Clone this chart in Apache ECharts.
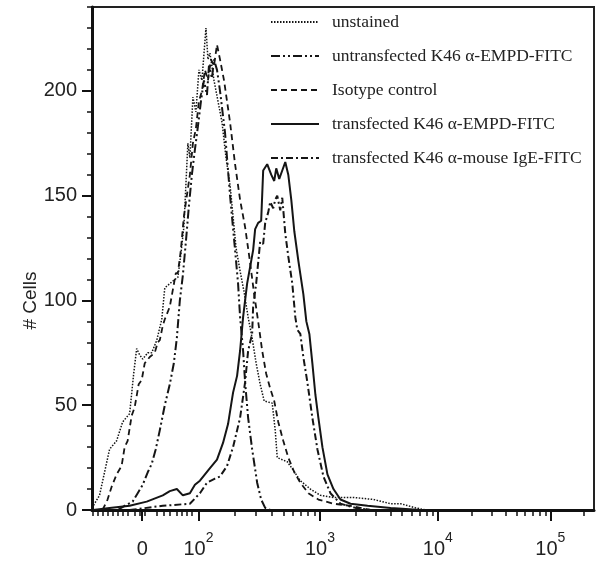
<!DOCTYPE html>
<html>
<head>
<meta charset="utf-8">
<script src="https://cdn.jsdelivr.net/npm/echarts@6/dist/echarts.min.js"></script>
<style>
  html, body { margin: 0; padding: 0; background: #fff; }
  #main { width: 601px; height: 568px; }
</style>
</head>
<body>
<div id="main"></div>
<script>
// x values are display channels (0..1000) of the biexponential FITC axis
var xTickPos = [100, 212, 454, 689, 913];
var xTickText = ['{b|0}', '{b|10}{s|2}', '{b|10}{s|3}', '{b|10}{s|4}', '{b|10}{s|5}'];
var xMinorTicks = [2, 12, 22, 32, 42, 52, 62, 72, 85, 95, 105, 128, 142, 155, 168, 178, 188, 198,
  285, 327, 358, 381, 400, 416, 430, 443,
  525, 566, 595, 618, 637, 653, 666, 678,
  756, 796, 824, 846, 863, 878, 891, 903, 980];
var yTickPos = [0, 50, 100, 150, 200];
var yMinorTicks = [10, 20, 30, 40, 60, 70, 80, 90, 110, 120, 130, 140, 160, 170, 180, 190, 210, 220, 230, 240];

var names = [
  'unstained',
  'untransfected K46 \u03b1-EMPD-FITC',
  'Isotype control',
  'transfected K46 \u03b1-EMPD-FITC',
  'transfected K46 \u03b1-mouse IgE-FITC'
];

var unstained = [[0, 1], [15, 7], [25, 18], [35, 29], [49, 33], [61, 42], [75, 46], [83, 65], [89, 77],
  [95, 74], [101, 72], [111, 75], [119, 75], [129, 81], [139, 91], [145, 106], [155, 108], [165, 110],
  [171, 111], [177, 122], [183, 135], [191, 175], [195, 168], [201, 197], [207, 190], [213, 210],
  [219, 205], [227, 230], [231, 215], [235, 218], [243, 205], [251, 195], [259, 185], [267, 168],
  [275, 155], [281, 140], [287, 125], [295, 114], [303, 104], [311, 92], [319, 82], [327, 70],
  [335, 60], [343, 52], [359, 51], [365, 38], [369, 25], [389, 23], [401, 19], [415, 14], [435, 10],
  [455, 7], [481, 6], [521, 6], [561, 5], [595, 3], [615, 3], [645, 1], [665, 0]];

var untransfected = [[51, 0], [65, 2], [81, 4], [91, 8], [101, 12], [111, 18], [119, 22], [127, 29],
  [135, 38], [145, 50], [155, 60], [163, 70], [169, 82], [175, 100], [181, 112], [187, 128], [193, 145],
  [199, 160], [205, 172], [211, 183], [217, 195], [223, 205], [229, 198], [233, 212], [239, 206],
  [243, 215], [249, 210], [255, 200], [265, 180], [275, 150], [285, 124], [291, 108], [295, 92],
  [301, 76], [305, 61], [311, 44], [319, 29], [329, 13], [337, 5], [345, 1], [355, 0]];

var isotype = [[21, 0], [31, 5], [39, 11], [49, 17], [59, 21], [65, 30], [71, 33], [79, 45], [85, 49],
  [93, 60], [99, 62], [105, 70], [115, 73], [125, 75], [131, 80], [135, 81], [141, 88], [145, 91],
  [155, 97], [161, 105], [167, 113], [171, 113], [177, 124], [183, 140], [189, 150], [195, 160],
  [201, 175], [207, 182], [213, 195], [219, 200], [225, 210], [231, 205], [237, 215], [243, 212],
  [249, 222], [255, 215], [263, 205], [269, 195], [275, 185], [285, 165], [295, 148], [305, 135],
  [315, 118], [323, 103], [331, 90], [339, 76], [347, 65], [355, 58], [363, 52], [371, 42], [381, 33],
  [391, 25], [403, 18], [415, 13], [431, 8], [451, 5], [481, 3], [515, 2], [555, 0]];

var transfectedEmpd = [[2, 0], [35, 1], [75, 2], [109, 4], [141, 7], [155, 9], [169, 10], [181, 7],
  [195, 8], [205, 12], [215, 14], [225, 17], [235, 20], [249, 24], [261, 32], [271, 41], [277, 50],
  [281, 56], [289, 64], [295, 76], [301, 92], [305, 100], [309, 108], [315, 116], [321, 124],
  [325, 134], [331, 137], [337, 138], [341, 162], [349, 165], [357, 160], [363, 157], [367, 163],
  [373, 158], [379, 162], [385, 166], [391, 160], [397, 148], [403, 133], [411, 119], [421, 103],
  [427, 90], [433, 84], [439, 70], [445, 55], [451, 44], [459, 30], [469, 17], [481, 10], [495, 5],
  [515, 3], [549, 2], [595, 1], [655, 0]];

var transfectedIgE = [[75, 0], [141, 2], [195, 3], [215, 8], [229, 13], [245, 15], [255, 16], [269, 21],
  [281, 30], [295, 44], [305, 61], [311, 76], [319, 84], [321, 97], [327, 108], [331, 118], [335, 128],
  [341, 127], [345, 137], [351, 142], [355, 147], [361, 144], [365, 148], [369, 150], [375, 143],
  [379, 149], [385, 132], [391, 121], [399, 108], [405, 92], [409, 86], [415, 84], [421, 73], [429, 61],
  [439, 44], [449, 29], [461, 16], [475, 8], [495, 3], [525, 1], [555, 0]];

var chart = echarts.init(document.getElementById('main'));

var ink = '#151515';
function line(name, data, type, width) {
  return {
    type: 'line',
    name: name,
    data: data,
    symbol: 'none',
    xAxisIndex: 0,
    yAxisIndex: 0,
    lineStyle: { color: ink, width: width, type: type },
    itemStyle: { color: ink },
    emphasis: { disabled: true }
  };
}

var option = {
  animation: false,
  backgroundColor: '#fff',
  grid: {
    left: 92, right: 7, top: 7, bottom: 58,
    show: true, borderColor: '#222', borderWidth: 2
  },
  legend: {
    orient: 'vertical',
    left: 265,
    top: 8,
    itemWidth: 48,
    itemHeight: 12,
    itemGap: 16,
    data: names,
    itemStyle: { opacity: 0 },
    textStyle: {
      fontFamily: 'Liberation Serif',
      fontSize: 17.5,
      color: '#222',
      padding: [0, 0, 0, 8]
    }
  },
  xAxis: [{
    type: 'value',
    min: 0,
    max: 1000,
    position: 'bottom',
    splitLine: { show: false },
    axisLine: { lineStyle: { color: '#111', width: 3 } },
    axisTick: { customValues: xTickPos, length: 11, lineStyle: { color: '#111', width: 2 } },
    axisLabel: {
      customValues: xTickPos,
      margin: 21,
      formatter: function (v) { return xTickText[xTickPos.indexOf(v)]; },
      fontFamily: 'Liberation Sans',
      fontSize: 20,
      color: '#222',
      rich: {
        b: { fontFamily: 'Liberation Sans', fontSize: 20, color: '#222', verticalAlign: 'bottom', lineHeight: 28 },
        s: { fontFamily: 'Liberation Sans', fontSize: 14, color: '#222', verticalAlign: 'top', lineHeight: 28 }
      }
    }
  }, {
    type: 'value',
    min: 0,
    max: 1000,
    position: 'bottom',
    splitLine: { show: false },
    axisLine: { show: false },
    axisTick: { customValues: xMinorTicks, length: 6, lineStyle: { color: '#111', width: 1.5 } },
    axisLabel: { show: false }
  }],
  yAxis: [{
    type: 'value',
    min: 0,
    max: 240,
    position: 'left',
    name: '# Cells',
    nameLocation: 'middle',
    nameRotate: 90,
    nameGap: 52,
    nameMoveOverlap: false,
    nameTextStyle: {
      fontFamily: 'Liberation Sans',
      fontSize: 19,
      color: '#222',
      padding: [0, 84, 0, 0]
    },
    splitLine: { show: false },
    axisLine: { lineStyle: { color: '#111', width: 3 } },
    axisTick: { customValues: yTickPos, length: 10, lineStyle: { color: '#111', width: 2 } },
    axisLabel: {
      customValues: yTickPos,
      margin: 15,
      fontFamily: 'Liberation Sans',
      fontSize: 20,
      color: '#222'
    }
  }, {
    type: 'value',
    min: 0,
    max: 240,
    position: 'left',
    splitLine: { show: false },
    axisLine: { show: false },
    axisTick: { customValues: yMinorTicks, length: 5, lineStyle: { color: '#111', width: 1.5 } },
    axisLabel: { show: false }
  }],
  series: [
    line(names[0], unstained, [1.5, 1.5], 1.5),
    line(names[1], untransfected, [9, 3, 2, 3, 2, 3], 2),
    line(names[2], isotype, [6, 4], 1.8),
    line(names[3], transfectedEmpd, 'solid', 2),
    line(names[4], transfectedIgE, [7, 3, 2, 3], 2)
  ]
};

chart.setOption(option);
</script>
</body>
</html>
